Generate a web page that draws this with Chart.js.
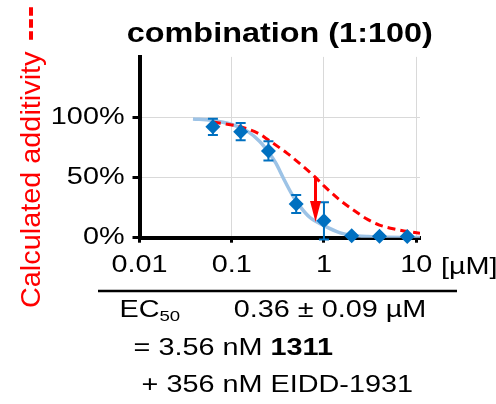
<!DOCTYPE html>
<html>
<head>
<meta charset="utf-8">
<script src="https://cdn.jsdelivr.net/npm/chart.js@4"></script>
<style>
html, body { margin: 0; padding: 0; background: #fff; }
#wrap { width: 496px; height: 404px; }
</style>
</head>
<body>
<div id="wrap"><canvas id="doseChart"></canvas></div>
<script>
// measured points, concentration in µM, response in %
var concentrations = [0.0625, 0.125, 0.25, 0.5, 1, 2, 4, 8];
var responses = [92, 88, 72, 28, 14, 1.6, 1.2, 1];
var errors = [6.7, 7.2, 8, 7.5, 15.5, 0.8, 0.8, 0.8];

// fitted curve (light blue)
var fitConc = [0.038, 0.06, 0.1, 0.15, 0.2, 0.25, 0.3, 0.36, 0.45, 0.55, 0.7, 1, 1.5, 2, 3, 5, 11];
var fitResp = [98.5, 97.5, 94, 88, 80, 71, 62, 50, 36, 26, 17, 10, 4, 2, 0.9, 0.4, 0.2];

// calculated additivity (red dashed)
var additivityConc = [0.0625, 0.1, 0.125, 0.2, 0.25, 0.4, 0.5, 0.81, 1, 1.5, 2, 3, 4, 6, 11];
var additivityResp = [96, 93.5, 92, 86, 81, 70, 64, 50, 43, 31, 24, 15, 10.5, 7, 3.6];

// red shift arrow
var arrowConc = [0.81];
var arrowFrom = [50];
var arrowTo = [13];

var xTickValues = [0.01, 0.1, 1, 10];
var xTickLabels = ['0.01', '0.1', '1', '10'];
var yTickValues = [0, 50, 100];
var yTickLabels = ['0%', '50%', '100%'];

var FONT = "'Liberation Sans', Arial, sans-serif";
var BLUE = '#0070C0';
var RED = '#FF0000';

// the figure's text is drawn wider than normal Arial
var textStretch = 1.2;
var canvas = document.getElementById('doseChart');
var ctx = canvas.getContext('2d');
var plainFillText = ctx.fillText;
ctx.fillText = function (text, x, y) {
    this.save();
    this.translate(x, y);
    this.scale(textStretch, 1);
    plainFillText.call(this, text, 0, 0);
    this.restore();
};

function pairs(xs, ys) {
    return xs.map(function (x, i) { return {x: x, y: ys[i]}; });
}

var errorBars = {
    id: 'errorBars',
    afterDatasetsDraw: function (chart) {
        var xs = chart.scales.x, ys = chart.scales.y, c = chart.ctx;
        c.save();
        c.strokeStyle = BLUE;
        c.lineWidth = 2;
        concentrations.forEach(function (conc, i) {
            var px = xs.getPixelForValue(conc);
            var top = ys.getPixelForValue(responses[i] + errors[i]);
            var bottom = ys.getPixelForValue(responses[i] - errors[i]);
            c.beginPath();
            c.moveTo(px, top); c.lineTo(px, bottom);
            c.moveTo(px - 5, top); c.lineTo(px + 5, top);
            c.moveTo(px - 5, bottom); c.lineTo(px + 5, bottom);
            c.stroke();
        });
        // arrow from additivity curve down to measured curve
        arrowConc.forEach(function (conc, i) {
            var px = xs.getPixelForValue(conc);
            var y1 = ys.getPixelForValue(arrowFrom[i]);
            var y2 = ys.getPixelForValue(arrowTo[i]);
            c.strokeStyle = RED;
            c.fillStyle = RED;
            c.lineWidth = 3;
            c.beginPath();
            c.moveTo(px, y1); c.lineTo(px, y2 - 18);
            c.stroke();
            c.beginPath();
            c.moveTo(px - 5.5, y2 - 21);
            c.lineTo(px + 5.5, y2 - 21);
            c.lineTo(px, y2);
            c.closePath();
            c.fill();
        });
        c.restore();
    }
};

var extraText = {
    id: 'extraText',
    afterDraw: function (chart) {
        var c = chart.ctx, area = chart.chartArea;
        c.save();
        c.fillStyle = '#000';
        c.textAlign = 'left';
        c.textBaseline = 'alphabetic';
        c.font = '24px ' + FONT;
        c.fillText('[µM]', 441, area.bottom + 36.5);

        // separator line
        c.strokeStyle = '#000';
        c.lineWidth = 2.5;
        c.beginPath();
        c.moveTo(98, 291);
        c.lineTo(457, 291);
        c.stroke();

        c.fillText('EC', 119.5, 317);
        var ecW = c.measureText('EC').width * textStretch;
        c.font = '15.5px ' + FONT;
        c.fillText('50', 119.5 + ecW, 321);
        c.font = '24px ' + FONT;
        c.fillText('0.36 ± 0.09 µM', 233.8, 317);

        var part = '= 3.56 nM ';
        c.fillText(part, 133.6, 355);
        var partW = c.measureText(part).width * textStretch;
        c.font = 'bold 24px ' + FONT;
        c.fillText('1311', 133.6 + partW, 355);
        c.font = '24px ' + FONT;
        c.fillText('+ 356 nM EIDD-1931', 141.6, 392);

        // rotated legend for the red dashed curve
        c.fillStyle = RED;
        c.translate(40, 308);
        c.rotate(-Math.PI / 2);
        c.font = '28px ' + FONT;
        var saved = textStretch;
        textStretch = 1.03;
        c.fillText('Calculated additivity', 0, 0);
        textStretch = saved;
        c.setTransform(1, 0, 0, 1, 0, 0);
        c.strokeStyle = RED;
        c.lineWidth = 4;
        c.setLineDash([8.4, 3.6]);
        c.beginPath();
        c.moveTo(31, 7.3);
        c.lineTo(31, 41);
        c.stroke();
        c.restore();
    }
};

Chart.defaults.font.family = FONT;
Chart.defaults.color = '#000';

new Chart(ctx, {
    type: 'line',
    data: {
        datasets: [
            {
                label: 'combination',
                data: pairs(concentrations, responses),
                showLine: false,
                pointStyle: 'rectRot',
                pointRadius: 7.5,
                pointBackgroundColor: BLUE,
                pointBorderColor: BLUE,
                pointBorderWidth: 0,
                clip: false
            },
            {
                label: 'Calculated additivity',
                data: pairs(additivityConc, additivityResp),
                borderColor: RED,
                borderWidth: 3,
                borderDash: [8, 5],
                pointRadius: 0,
                cubicInterpolationMode: 'monotone',
                fill: false
            },
            {
                label: 'fit',
                data: pairs(fitConc, fitResp),
                borderColor: '#9DC3E6',
                borderWidth: 3.5,
                pointRadius: 0,
                cubicInterpolationMode: 'monotone',
                fill: false
            }
        ]
    },
    options: {
        responsive: true,
        maintainAspectRatio: false,
        animation: false,
        layout: {padding: {left: 0, right: 76, top: 0, bottom: 0}},
        plugins: {
            legend: {display: false},
            tooltip: {enabled: false},
            title: {
                display: true,
                text: 'combination (1:100)',
                fullSize: false,
                color: '#000',
                font: {size: 27, weight: 'bold'},
                padding: {top: 18.5, bottom: 6}
            }
        },
        scales: {
            x: {
                type: 'logarithmic',
                min: 0.01,
                max: 11,
                afterBuildTicks: function (scale) {
                    scale.ticks = xTickValues.map(function (v) { return {value: v}; });
                },
                afterFit: function (scale) { scale.height = 166.3; },
                border: {color: '#000', width: 4},
                grid: {
                    color: function (c) { return c.tick && c.tick.value === 0.01 ? 'rgba(0,0,0,0)' : '#D9D9D9'; },
                    lineWidth: 1,
                    tickColor: '#000',
                    tickWidth: 3,
                    tickLength: 5
                },
                ticks: {
                    color: '#000',
                    font: {size: 24},
                    padding: 8,
                    autoSkip: false,
                    maxRotation: 0,
                    callback: function (v, i) { return xTickLabels[i]; }
                }
            },
            y: {
                min: 0,
                max: 150,
                afterFit: function (scale) { scale.width = 139.5; },
                border: {color: '#000', width: 4},
                grid: {
                    color: function (c) {
                        return c.tick && (c.tick.value === 0 || c.tick.value === 150) ? 'rgba(0,0,0,0)' : '#D9D9D9';
                    },
                    lineWidth: 1,
                    tickColor: function (c) { return c.tick && c.tick.value === 150 ? 'rgba(0,0,0,0)' : '#000'; },
                    tickWidth: 3,
                    tickLength: 7
                },
                ticks: {
                    stepSize: 25,
                    color: '#000',
                    font: {size: 24},
                    padding: 8,
                    callback: function (v) {
                        var k = yTickValues.indexOf(v);
                        return k < 0 ? '' : yTickLabels[k];
                    }
                }
            }
        }
    },
    plugins: [errorBars, extraText]
});
</script>
</body>
</html>
